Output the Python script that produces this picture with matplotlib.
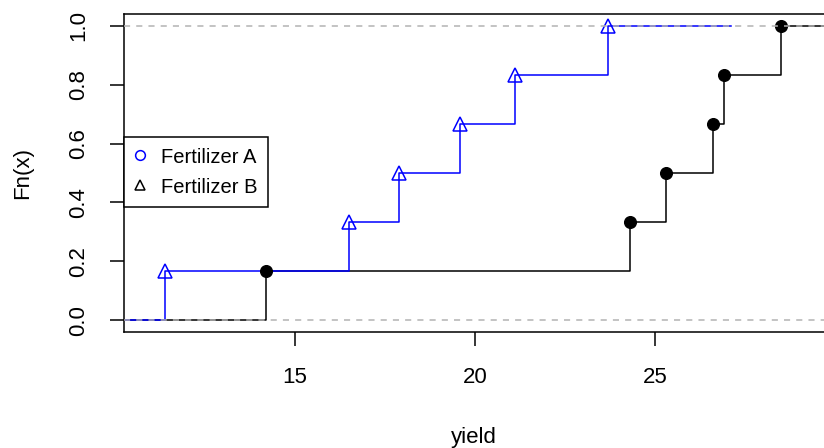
import numpy as np
import matplotlib
matplotlib.use("Agg")
import matplotlib.pyplot as plt
from matplotlib.lines import Line2D

# yields
yield_a = [14.2, 24.3, 25.3, 26.6, 26.9, 28.5]   # black, filled circles
yield_b = [11.4, 16.5, 17.9, 19.6, 21.1, 23.7]   # blue, open triangles
legend_labels = ["Fertilizer A", "Fertilizer B"]
x_ticks = [15, 20, 25]
y_ticks = [0.0, 0.2, 0.4, 0.6, 0.8, 1.0]

plt.rcParams["font.family"] = ["Liberation Sans", "DejaVu Sans"]


def ecdf_steps(values, left=None, right=None):
    """Knots and levels of an ecdf, with R-style extension at both ends"""
    x = np.sort(np.asarray(values, dtype=float))
    n = len(x)
    dr = max(0.08 * (x[-1] - x[0]), np.median(np.diff(x)))
    lo = x[0] - 2 * dr if left is None else left
    hi = x[-1] + 2 * dr if right is None else right
    xs = np.concatenate([[lo], x, [hi]])
    ys = np.concatenate([[0.0], np.arange(1, n + 1) / n, [1.0]])
    return x, np.arange(1, n + 1) / n, xs, ys


fig = plt.figure(figsize=(8.24, 4.48), dpi=100)
ax = fig.add_axes([124 / 824, 1 - 332 / 448, 700 / 824, 318 / 448])
ax.set_xlim(10.27, 29.68)
ax.set_ylim(-0.04, 1.04)

# black ecdf (first plot, runs past both edges)
kx, ky, sx, sy = ecdf_steps(yield_a, left=5, right=40)
ax.step(sx, sy, where="post", color="black", lw=1.1, zorder=2)
ax.plot(kx, ky, "o", color="black", ms=8.4, zorder=3)

# blue ecdf added on top
kx, ky, sx, sy = ecdf_steps(yield_b)
ax.step(sx, sy, where="post", color="blue", lw=1.1, zorder=2)
ax.plot(kx, ky, "^", mfc="none", mec="blue", mew=1.1, ms=10, zorder=3)

# grey dashed reference lines drawn over the steps
for h in (0, 1):
    ax.axhline(h, color="#B3B3B3", lw=1.1, ls=(0, (4, 4)), zorder=4)

ax.set_xticks(x_ticks)
ax.set_yticks(y_ticks)
ax.set_yticklabels([f"{v:.1f}" for v in y_ticks], rotation=90, va="center")
ax.tick_params(length=10, width=1.1, pad=15, labelsize=16, direction="out")
for side in ("left", "bottom", "top"):
    ax.spines[side].set_linewidth(1.1)
ax.spines["right"].set_visible(False)

ax.set_xlabel("yield", fontsize=16, va="center")
ax.set_ylabel("Fn(x)", fontsize=16, va="center")
ax.xaxis.set_label_coords(0.5, (332 - 437) / 318)
ax.yaxis.set_label_coords((23 - 124) / 700, 0.5)

handles = [
    Line2D([], [], ls="none", marker="o", mfc="none", mec="blue", mew=1.1, ms=7),
    Line2D([], [], ls="none", marker="^", mfc="none", mec="black", mew=1.1, ms=7),
]
leg = ax.legend(handles, legend_labels, loc="upper left",
                bbox_to_anchor=(0.0, (332 - 137) / 318), borderaxespad=0,
                fontsize=14.5, frameon=True, fancybox=False, framealpha=1,
                edgecolor="black", handlelength=0.6, handleheight=1.0,
                handletextpad=0.75, borderpad=0.5, labelspacing=0.5)
leg.get_frame().set_linewidth(1.1)

fig.savefig("out.png", dpi=100)
